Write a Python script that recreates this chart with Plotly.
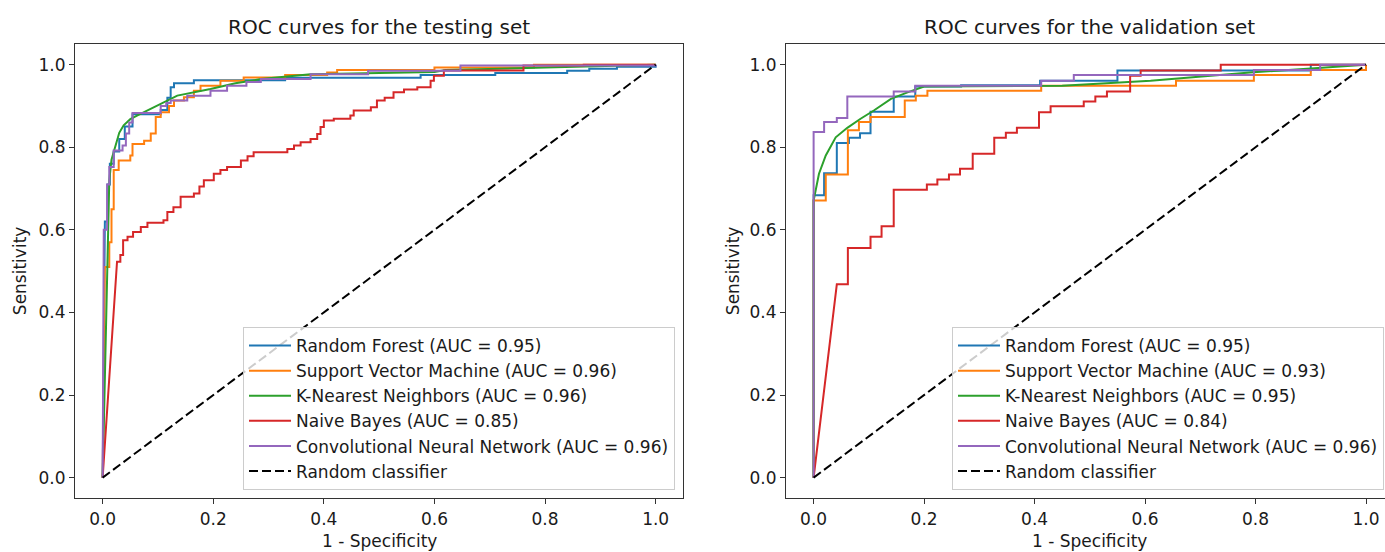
import plotly.graph_objects as go

W, H = 1385, 552

# ---------------- data ----------------
model_names = ["Random Forest", "Support Vector Machine", "K-Nearest Neighbors",
               "Naive Bayes", "Convolutional Neural Network"]
colors = ["#1f77b4", "#ff7f0e", "#2ca02c", "#d62728", "#9467bd"]
test_auc = [0.95, 0.96, 0.96, 0.85, 0.96]
val_auc = [0.95, 0.93, 0.95, 0.84, 0.96]

# testing set  (stair curves: fpr where tpr jumps, tpr after the jump)
test_rf_fpr = [0, 0.004, 0.009, 0.013, 0.02, 0.03, 0.04, 0.054, 0.105, 0.117, 0.123,
               0.129, 0.165, 0.33, 0.575, 0.71, 0.84, 0.88, 0.93, 1.0]
test_rf_tpr = [0, 0.62, 0.71, 0.76, 0.79, 0.82, 0.85, 0.88, 0.89, 0.92, 0.945,
               0.955, 0.962, 0.968, 0.975, 0.98, 0.985, 0.99, 0.995, 1.0]
test_svm_fpr = [0, 0.004, 0.012, 0.016, 0.02, 0.029, 0.05, 0.054, 0.075, 0.087, 0.096,
                0.105, 0.12, 0.129, 0.147, 0.165, 0.177, 0.213, 0.255, 0.33, 0.406,
                0.424, 0.6, 0.78, 1.0]
test_svm_tpr = [0, 0.51, 0.57, 0.65, 0.745, 0.768, 0.78, 0.808, 0.816, 0.833, 0.873,
                0.885, 0.9, 0.913, 0.921, 0.937, 0.949, 0.961, 0.969, 0.975, 0.981,
                0.987, 0.993, 1.0, 1.0]
test_knn_fpr = [0, 0.012, 0.016, 0.024, 0.03, 0.038, 0.05, 0.063, 0.093, 0.135, 0.195,
                0.24, 0.286, 0.376, 0.6, 0.62, 0.8, 1.0]
test_knn_tpr = [0, 0.72, 0.77, 0.81, 0.835, 0.853, 0.868, 0.877, 0.897, 0.925, 0.941,
                0.955, 0.965, 0.977, 0.982, 0.987, 0.993, 1.0]
test_nb_fpr = [0, 0.026, 0.032, 0.037, 0.045, 0.055, 0.069, 0.081, 0.11, 0.117, 0.128,
               0.141, 0.165, 0.175, 0.183, 0.201, 0.213, 0.225, 0.25, 0.262, 0.273,
               0.334, 0.346, 0.358, 0.376, 0.388, 0.394, 0.4, 0.418, 0.448, 0.454,
               0.485, 0.496, 0.51, 0.526, 0.545, 0.569, 0.593, 0.599, 0.617, 0.761,
               0.87, 1.0]
test_nb_tpr = [0, 0.523, 0.539, 0.575, 0.583, 0.595, 0.607, 0.617, 0.623, 0.643, 0.655,
               0.68, 0.688, 0.705, 0.72, 0.736, 0.745, 0.752, 0.768, 0.778, 0.788,
               0.796, 0.804, 0.812, 0.82, 0.832, 0.849, 0.865, 0.869, 0.877, 0.889,
               0.897, 0.913, 0.92, 0.933, 0.94, 0.945, 0.961, 0.973, 0.986, 0.998,
               1.0, 1.0]
test_cnn_fpr = [0, 0.002, 0.008, 0.012, 0.02, 0.036, 0.042, 0.048, 0.054, 0.105, 0.115,
                0.123, 0.153, 0.195, 0.225, 0.26, 0.286, 0.376, 0.48, 0.647, 1.0]
test_cnn_tpr = [0, 0.6, 0.71, 0.752, 0.792, 0.804, 0.833, 0.86, 0.883, 0.9, 0.907,
                0.913, 0.925, 0.937, 0.949, 0.958, 0.965, 0.977, 0.985, 0.998, 1.0]

# validation set
val_rf_fpr = [0, 0, 0.019, 0.042, 0.064, 0.084, 0.103, 0.145, 0.184, 0.267, 0.41, 0.55, 0.9, 1.0]
val_rf_tpr = [0, 0.684, 0.737, 0.81, 0.823, 0.834, 0.886, 0.923, 0.947, 0.95, 0.961, 0.986, 1.0, 1.0]
val_svm_fpr = [0, 0, 0.022, 0.062, 0.082, 0.103, 0.165, 0.185, 0.206, 0.412, 0.656, 0.797, 0.9, 1.0]
val_svm_tpr = [0, 0.671, 0.734, 0.841, 0.861, 0.873, 0.913, 0.925, 0.937, 0.949, 0.961, 0.975, 0.987, 1.0]
val_knn_fpr = [0, 0, 0.0097, 0.022, 0.04, 0.061, 0.085, 0.109, 0.14, 0.17, 0.2, 0.3, 0.45, 0.61, 0.79, 1.0]
val_knn_tpr = [0, 0.671, 0.736, 0.78, 0.824, 0.847, 0.869, 0.889, 0.917, 0.933, 0.947, 0.948, 0.949, 0.961, 0.981, 1.0]
val_nb_fpr = [0, 0.042, 0.062, 0.103, 0.123, 0.145, 0.205, 0.224, 0.245, 0.265, 0.288, 0.327,
              0.348, 0.368, 0.408, 0.429, 0.489, 0.51, 0.531, 0.573, 0.592, 0.737, 1.0]
val_nb_tpr = [0, 0.468, 0.556, 0.583, 0.609, 0.697, 0.71, 0.722, 0.734, 0.748, 0.784, 0.823,
              0.835, 0.847, 0.885, 0.899, 0.911, 0.923, 0.935, 0.973, 0.986, 1.0, 1.0]
val_cnn_fpr = [0, 0, 0.019, 0.042, 0.061, 0.145, 0.184, 0.412, 0.471, 0.797, 0.917, 1.0]
val_cnn_tpr = [0, 0.837, 0.861, 0.871, 0.923, 0.935, 0.949, 0.961, 0.975, 0.987, 1.0, 1.0]

random_fpr = [0, 1]
random_tpr = [0, 1]

tick_vals = [0, 0.2, 0.4, 0.6, 0.8, 1.0]
tick_text = ["0.0", "0.2", "0.4", "0.6", "0.8", "1.0"]

# curve style: 's' = ROC staircase, 'l' = straight segments
test_curves = [(test_rf_fpr, test_rf_tpr, "s"), (test_svm_fpr, test_svm_tpr, "s"),
               (test_knn_fpr, test_knn_tpr, "l"), (test_nb_fpr, test_nb_tpr, "s"),
               (test_cnn_fpr, test_cnn_tpr, "s")]
val_curves = [(val_rf_fpr, val_rf_tpr, "s"), (val_svm_fpr, val_svm_tpr, "s"),
              (val_knn_fpr, val_knn_tpr, "l"), (val_nb_fpr, val_nb_tpr, "s"),
              (val_cnn_fpr, val_cnn_tpr, "s")]


def roc_points(xs, ys, kind):
    """Expand step data into the ROC vertices (like sklearn's roc_curve output)."""
    if kind == "l":
        return list(xs), list(ys)
    px, py = [xs[0], xs[1]], [ys[0], ys[1]]
    for i in range(2, len(xs)):
        px += [xs[i], xs[i]]
        py += [ys[i - 1], ys[i]]
    return px, py


FONT = "DejaVu Sans"
fig = go.Figure()

for panel, (curves, aucs, xa, ya, leg) in enumerate([
        (test_curves, test_auc, "x", "y", "legend"),
        (val_curves, val_auc, "x2", "y2", "legend2")]):
    for (xs, ys, kind), name, col, auc in zip(curves, model_names, colors, aucs):
        px, py = roc_points(xs, ys, kind)
        fig.add_trace(go.Scatter(
            x=px, y=py, mode="lines", name=f"{name} (AUC = {auc:.2f})",
            line=dict(color=col, width=2), xaxis=xa, yaxis=ya, legend=leg,
            hoverinfo="skip"))
    fig.add_trace(go.Scatter(
        x=random_fpr, y=random_tpr, mode="lines", name="Random classifier",
        line=dict(color="black", width=2, dash="9px,4px"), xaxis=xa, yaxis=ya,
        legend=leg, hoverinfo="skip"))

axis_common = dict(
    showline=True, linecolor="#333333", linewidth=1.2, ticks="outside", ticklen=5,
    tickwidth=1.2, tickcolor="#333333", showgrid=False, zeroline=False,
    tickvals=tick_vals, ticktext=tick_text, automargin=False,
    tickfont=dict(family=FONT, size=17, color="#1a1a1a"))

y_dom = [1 - 498.3 / H, 1 - 44 / H]
x1_dom = [75 / W, 683.3 / W]
x2_dom = [786 / W, 1.0]

legend_common = dict(
    bgcolor="rgba(255,255,255,0.8)", bordercolor="#cccccc", borderwidth=1,
    font=dict(family=FONT, size=17, color="#1a1a1a"), xanchor="right",
    yanchor="bottom", y=(H - 490) / H, traceorder="normal", itemwidth=42)

fig.update_layout(
    width=W, height=H, margin=dict(l=0, r=0, t=0, b=0),
    paper_bgcolor="white", plot_bgcolor="white",
    font=dict(family=FONT, size=17, color="#1a1a1a"),
    xaxis=dict(domain=x1_dom, range=[-0.05, 1.05], anchor="y", mirror=True, **axis_common),
    yaxis=dict(domain=y_dom, range=[-0.05, 1.05], anchor="x", mirror=True, **axis_common),
    xaxis2=dict(domain=x2_dom, range=[-0.05, (W - 813.3) / 552.7], anchor="y2",
                mirror=True, **axis_common),
    yaxis2=dict(domain=y_dom, range=[-0.05, 1.05], anchor="x2", mirror=False, **axis_common),
    legend=dict(x=675 / W, **legend_common),
    legend2=dict(x=1384 / W, **legend_common),
    showlegend=True,
)

c1 = (75 + 683.3) / 2 / W
c2 = (786 + 1392.6) / 2 / W
ymid = 1 - (44 + 498.3) / 2 / H
annots = [
    dict(text="ROC curves for the testing set", x=c1, y=1 - 27 / H, size=20),
    dict(text="ROC curves for the validation set", x=c2, y=1 - 27 / H, size=20),
    dict(text="1 - Specificity", x=c1, y=1 - 541 / H, size=17),
    dict(text="1 - Specificity", x=c2, y=1 - 541 / H, size=17),
]
for a in annots:
    fig.add_annotation(text=a["text"], x=a["x"], y=a["y"], xref="paper", yref="paper",
                       xanchor="center", yanchor="middle", showarrow=False,
                       font=dict(family=FONT, size=a["size"], color="#1a1a1a"))
for xc in [20 / W, 733 / W]:
    fig.add_annotation(text="Sensitivity", x=xc, y=ymid, xref="paper", yref="paper",
                       xanchor="center", yanchor="middle", showarrow=False, textangle=-90,
                       font=dict(family=FONT, size=17, color="#1a1a1a"))

# remove the browser's default 8px page margin so the figure sits at (0, 0)
fig.write_html("out.html", config={"displayModeBar": False},
               post_script="document.body.style.margin='0';document.body.style.overflow='hidden';")
